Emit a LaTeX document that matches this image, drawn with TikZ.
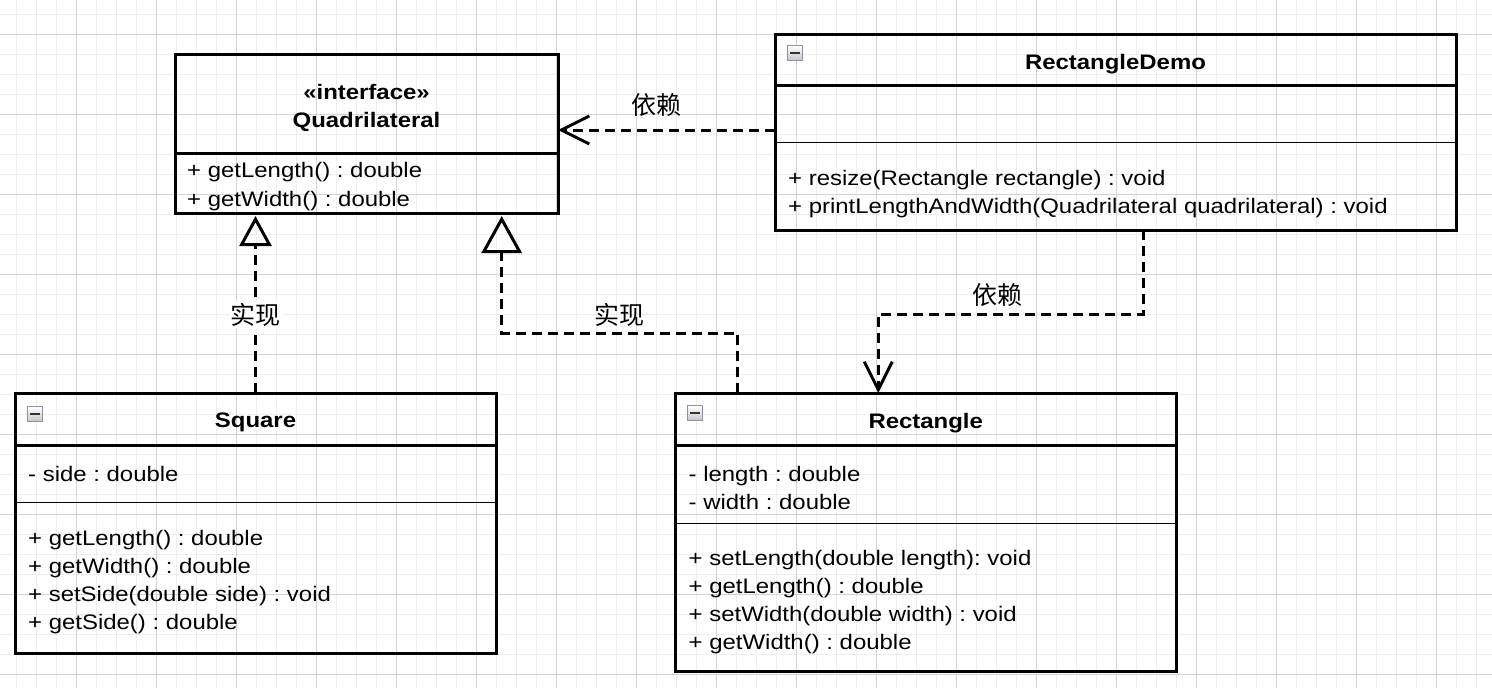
\documentclass[tikz,border=0pt]{standalone}
\usepackage{fontspec}
\setmainfont{Liberation Sans}[FakeStretch=1.14]
\newfontfamily\cjk{Noto Sans CJK SC}
\usetikzlibrary{arrows.meta}
\definecolor{gridminor}{HTML}{EEEEEE}
\definecolor{gridmajor}{HTML}{D4D4D4}
\definecolor{iconedge}{HTML}{8E94A6}
\begin{document}
\frenchspacing
\begin{tikzpicture}[x=1pt,y=-1pt,
  box/.style={draw=black, line width=3pt, outer sep=0pt, inner sep=0pt, anchor=north west},
  septhick/.style={line width=3pt},
  septhin/.style={line width=1.5pt},
  txt/.style={anchor=base west, inner sep=0pt, font=\fontsize{21}{28}\selectfont},
  ttl/.style={anchor=base, inner sep=0pt, font=\fontsize{21}{28}\selectfont\bfseries},
  lbl/.style={inner sep=2pt, font=\cjk\fontsize{25}{25}\selectfont},
  icon/.style={draw=iconedge, line width=1.2pt, top color=white, bottom color=gray!45,
    minimum size=15pt, inner sep=0pt, outer sep=0pt,
    path picture={\draw[line width=2pt, black!80]
      ([xshift=-5pt]path picture bounding box.center) -- ([xshift=5pt]path picture bounding box.center);}},
  conn/.style={line width=3pt, dash pattern=on 10pt off 6pt},
  dep/.style={conn, -{Straight Barb[length=28pt, width=28pt]}},
  realS/.style={conn, -{Triangle[open, length=30pt, width=32pt]}},
  realL/.style={conn, -{Triangle[open, length=37pt, width=40pt]}},
]
\useasboundingbox (0,0) rectangle (1492,688);
\fill[white] (0,0) rectangle (1492,688);
% grid
\foreach \i in {0,...,74} \draw[gridminor, line width=1pt] ({16.7+20*\i},0) -- ({16.7+20*\i},688);
\foreach \i in {0,...,33} \draw[gridminor, line width=1pt] (0,{14.3+20*\i}) -- (1492,{14.3+20*\i});
\foreach \i in {0,...,18} \draw[gridmajor, line width=1pt] ({76.7+80*\i},0) -- ({76.7+80*\i},688);
\foreach \i in {0,...,8} \draw[gridmajor, line width=1pt] (0,{34.3+80*\i}) -- (1492,{34.3+80*\i});

% Quadrilateral
\node[box, minimum width=383pt, minimum height=159pt] (Q) at (175,54) {};
\draw[septhick] ([yshift=-99pt]Q.north west) -- ([yshift=-99pt]Q.north east);
\node[ttl] (Qst) at (366.5,99.3) {«interface»};
\node[ttl] (Qnm) at (366.5,127.3) {Quadrilateral};
\node[txt] (Qm1) at (187,177.5) {+ getLength() : double};
\node[txt] (Qm2) at (187,206.3) {+ getWidth() : double};

% RectangleDemo
\node[box, minimum width=681pt, minimum height=196pt] (RD) at (775,34) {};
\draw[septhick] ([yshift=-51.7pt]RD.north west) -- ([yshift=-51.7pt]RD.north east);
\draw[septhin] ([yshift=-108.7pt]RD.north west) -- ([yshift=-108.7pt]RD.north east);
\node[icon] (RDi) at ([xshift=20pt,yshift=-19pt]RD.north west) {};
\node[ttl] (RDnm) at (1115.5,69.3) {RectangleDemo};
\node[txt] (RDm1) at (788,185.7) {+ resize(Rectangle rectangle) : void};
\node[txt] (RDm2) at (788,213.5) {+ printLengthAndWidth(Quadrilateral quadrilateral) : void};

% Square
\node[box, minimum width=481pt, minimum height=260pt] (Sq) at (15,393) {};
\draw[septhick] ([yshift=-52pt]Sq.north west) -- ([yshift=-52pt]Sq.north east);
\draw[septhin] ([yshift=-109.7pt]Sq.north west) -- ([yshift=-109.7pt]Sq.north east);
\node[icon] (Sqi) at ([xshift=20pt,yshift=-21pt]Sq.north west) {};
\node[ttl] (Sqnm) at (255.5,427.5) {Square};
\node[txt] (Sqa1) at (28,481) {- side : double};
\node[txt] (Sqm1) at (28,545.5) {+ getLength() : double};
\node[txt] (Sqm2) at (28,573.5) {+ getWidth() : double};
\node[txt] (Sqm3) at (28,601.5) {+ setSide(double side) : void};
\node[txt] (Sqm4) at (28,629.5) {+ getSide() : double};

% Rectangle
\node[box, minimum width=501.5pt, minimum height=278pt] (Rect) at (675,393) {};
\draw[septhick] ([yshift=-52pt]Rect.north west) -- ([yshift=-52pt]Rect.north east);
\draw[septhin] ([yshift=-130.5pt]Rect.north west) -- ([yshift=-130.5pt]Rect.north east);
\node[icon] (Recti) at ([xshift=20pt,yshift=-20pt]Rect.north west) {};
\node[ttl] (Rectnm) at (925.75,428) {Rectangle};
\node[txt] (Recta1) at (688.5,481.5) {- length : double};
\node[txt] (Recta2) at (688.5,509.5) {- width : double};
\node[txt] (Rectm1) at (688.5,565.5) {+ setLength(double length): void};
\node[txt] (Rectm2) at (688.5,593.5) {+ getLength() : double};
\node[txt] (Rectm3) at (688.5,621.5) {+ setWidth(double width) : void};
\node[txt] (Rectm4) at (688.5,649.5) {+ getWidth() : double};

% connectors
\draw[dep] ([yshift=2pt]RD.west) -- ([yshift=2pt]RD.west -| Q.east)
  node[lbl, pos=0.544, yshift=25pt] (l1) {依赖};
\draw[dep] ([xshift=27.8pt]RD.south) -- ++(0,84) -| ([xshift=-47.5pt]Rect.north)
  node[lbl, pos=0.276, yshift=19pt] (l2) {依赖};
\draw[realS, shorten >=3pt] (Sq.north) -- (Sq.north |- Q.south)
  node[lbl, fill=white, pos=0.433] (l3) {实现};
\draw[realL, shorten >=3pt] ([xshift=-188pt]Rect.north) -- ++(0,-60) -| ([xshift=135.2pt]Q.south)
  node[lbl, pos=0.25, yshift=18pt] (l4) {实现};
\end{tikzpicture}
\end{document}
